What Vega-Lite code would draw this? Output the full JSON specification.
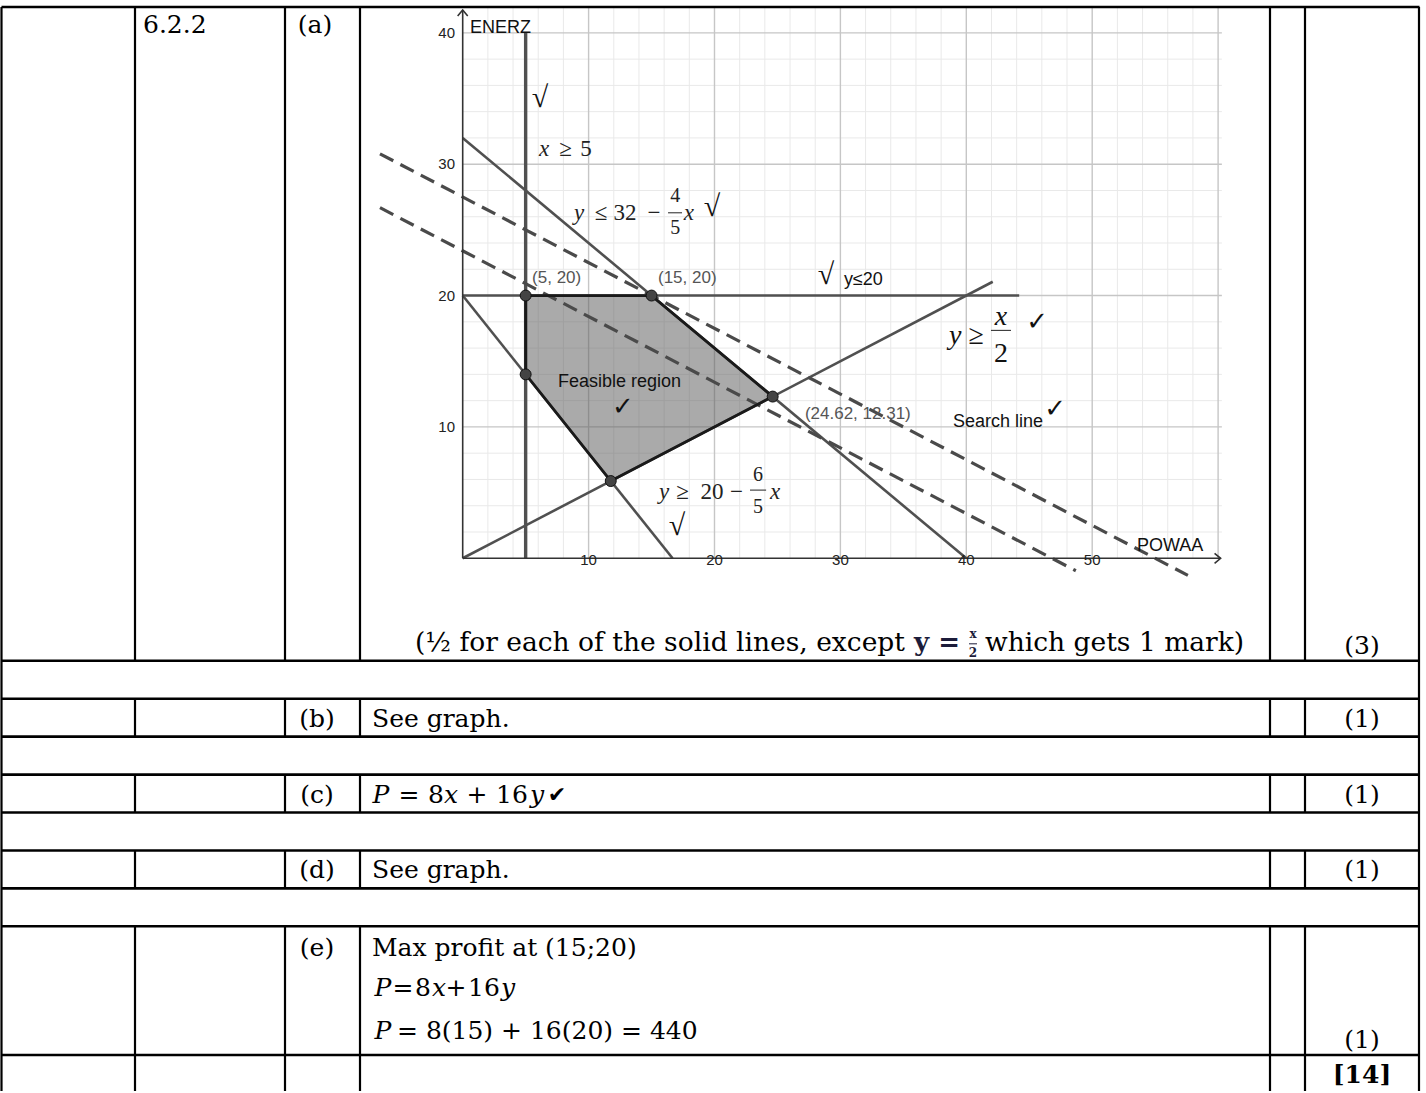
{
  "$schema": "https://vega.github.io/schema/vega-lite/v6.json",
  "width": 1426,
  "height": 1093,
  "autosize": {"type": "fit", "contains": "padding"},
  "padding": 0,
  "background": "white",
  "config": {"view": {"stroke": null}, "axis": {"disable": true}},
  "datasets": {
    "vminor": [{"x":2,"y":0,"y2":41.95},{"x":4,"y":0,"y2":41.95},{"x":6,"y":0,"y2":41.95},{"x":8,"y":0,"y2":41.95},{"x":12,"y":0,"y2":41.95},{"x":14,"y":0,"y2":41.95},{"x":16,"y":0,"y2":41.95},{"x":18,"y":0,"y2":41.95},{"x":22,"y":0,"y2":41.95},{"x":24,"y":0,"y2":41.95},{"x":26,"y":0,"y2":41.95},{"x":28,"y":0,"y2":41.95},{"x":32,"y":0,"y2":41.95},{"x":34,"y":0,"y2":41.95},{"x":36,"y":0,"y2":41.95},{"x":38,"y":0,"y2":41.95},{"x":42,"y":0,"y2":41.95},{"x":44,"y":0,"y2":41.95},{"x":46,"y":0,"y2":41.95},{"x":48,"y":0,"y2":41.95},{"x":52,"y":0,"y2":41.95},{"x":54,"y":0,"y2":41.95},{"x":56,"y":0,"y2":41.95},{"x":58,"y":0,"y2":41.95}],
    "vmajor": [{"x":10,"y":0,"y2":41.95},{"x":20,"y":0,"y2":41.95},{"x":30,"y":0,"y2":41.95},{"x":40,"y":0,"y2":41.95},{"x":50,"y":0,"y2":41.95},{"x":60,"y":0,"y2":41.95}],
    "hminor": [{"y":2,"x":0,"x2":60.3},{"y":4,"x":0,"x2":60.3},{"y":6,"x":0,"x2":60.3},{"y":8,"x":0,"x2":60.3},{"y":12,"x":0,"x2":60.3},{"y":14,"x":0,"x2":60.3},{"y":16,"x":0,"x2":60.3},{"y":18,"x":0,"x2":60.3},{"y":22,"x":0,"x2":60.3},{"y":24,"x":0,"x2":60.3},{"y":26,"x":0,"x2":60.3},{"y":28,"x":0,"x2":60.3},{"y":32,"x":0,"x2":60.3},{"y":34,"x":0,"x2":60.3},{"y":36,"x":0,"x2":60.3},{"y":38,"x":0,"x2":60.3}],
    "hmajor": [{"y":10,"x":0,"x2":60.3},{"y":20,"x":0,"x2":60.3},{"y":30,"x":0,"x2":60.3},{"y":40,"x":0,"x2":60.3}],
    "constraints": [
      {"line":"y=32-4x/5","x":0,"y":32},{"line":"y=32-4x/5","x":40,"y":0},
      {"line":"y=20","x":0,"y":20},{"line":"y=20","x":44.2,"y":20},
      {"line":"y=20-6x/5","x":0,"y":20},{"line":"y=20-6x/5","x":16.67,"y":0},
      {"line":"y=x/2","x":0,"y":0},{"line":"y=x/2","x":42.1,"y":21.05}
    ],
    "xge5": [{"x":5,"y":0},{"x":5,"y":40}],
    "search": [
      {"line":"P=440","x":-6.57,"y":30.79},{"line":"P=440","x":57.6,"y":-1.3},
      {"line":"P=374","x":-6.57,"y":26.69},{"line":"P=374","x":48.7,"y":-0.95}
    ],
    "region": [{"x":5,"lo":14,"hi":20},{"x":11.76,"lo":5.88,"hi":20},{"x":15,"lo":7.5,"hi":20},{"x":24.62,"lo":12.31,"hi":12.31}],
    "vertices": [{"i":0,"x":5,"y":20},{"i":1,"x":15,"y":20},{"i":2,"x":24.62,"y":12.31},{"i":3,"x":11.76,"y":5.88},{"i":4,"x":5,"y":14},{"i":5,"x":5,"y":20}],
    "axes": [
      {"part":"x","i":0,"x":0,"y":0},{"part":"x","i":1,"x":60.2,"y":0},
      {"part":"y","i":0,"x":0,"y":0},{"part":"y","i":1,"x":0,"y":41.74},
      {"part":"xa","i":0,"x":59.72,"y":0.38},{"part":"xa","i":1,"x":60.2,"y":0},{"part":"xa","i":2,"x":59.72,"y":-0.38},
      {"part":"ya","i":0,"x":-0.4,"y":41.29},{"part":"ya","i":1,"x":0,"y":41.74},{"part":"ya","i":2,"x":0.4,"y":41.29}
    ],
    "g_sans": [{"t":"ENERZ","x":0.58,"y":40.37},{"t":"POWAA","x":53.56,"y":0.93},{"t":"Feasible region","x":7.57,"y":13.4},{"t":"Search line","x":38.95,"y":10.36},{"t":"y≤20","x":30.28,"y":21.22}],
    "g_coords": [{"t":"(5, 20)","x":5.51,"y":21.3},{"t":"(15, 20)","x":15.51,"y":21.3},{"t":"(24.62, 12.31)","x":27.18,"y":10.97}],
    "g_yticks": [{"t":"10","x":-0.61,"y":10},{"t":"20","x":-0.61,"y":20},{"t":"30","x":-0.61,"y":30},{"t":"40","x":-0.61,"y":40}],
    "g_xticks": [{"t":"10","x":10,"y":-0.13},{"t":"20","x":20,"y":-0.13},{"t":"30","x":30,"y":-0.13},{"t":"40","x":40,"y":-0.13},{"t":"50","x":50,"y":-0.13}],
    "g_mi": [{"t":"x","x":6.46,"y":31.17},{"t":"y","x":9.24,"y":26.31},{"t":"x","x":17.97,"y":26.31},{"t":"y","x":16.0,"y":5.04},{"t":"x","x":24.81,"y":5.04}],
    "g_mr": [{"t":"≥","x":8.17,"y":31.17},{"t":"5","x":9.8,"y":31.17},{"t":"≤","x":10.99,"y":26.31},{"t":"32","x":12.9,"y":26.31},{"t":"−","x":15.19,"y":26.31},{"t":"≥","x":17.46,"y":5.04},{"t":"20","x":19.8,"y":5.04},{"t":"−","x":21.75,"y":5.04}],
    "g_frac": [{"t":"4","x":16.88,"y":27.6},{"t":"5","x":16.88,"y":25.14},{"t":"6","x":23.45,"y":6.33},{"t":"5","x":23.45,"y":3.94}],
    "fracbars": [{"x":16.31,"x2":17.42,"y":26.3},{"x":22.82,"x2":24.1,"y":5.19},{"x":41.96,"x2":43.55,"y":17.35}],
    "g_bi": [{"t":"y","x":39.12,"y":16.9},{"t":"x","x":42.76,"y":18.34}],
    "g_br": [{"t":"≥","x":40.79,"y":16.9},{"t":"2","x":42.76,"y":15.52}],
    "g_checks": [{"t":"✓","x":12.73,"y":11.5},{"t":"✓","x":45.62,"y":17.96},{"t":"✓","x":47.05,"y":11.35}],
    "g_roots": [{"t":"√","x":6.14,"y":35.06},{"t":"√","x":19.8,"y":26.77},{"t":"√","x":28.85,"y":21.6},{"t":"√","x":17.02,"y":2.45}],
    "hlines": [{"x":1.5,"x2":1419.5,"y":7},{"x":1.5,"x2":1419.5,"y":662},{"x":1.5,"x2":1419.5,"y":700},{"x":1.5,"x2":1419.5,"y":738},{"x":1.5,"x2":1419.5,"y":776},{"x":1.5,"x2":1419.5,"y":814},{"x":1.5,"x2":1419.5,"y":852},{"x":1.5,"x2":1419.5,"y":890},{"x":1.5,"x2":1419.5,"y":928},{"x":1.5,"x2":1419.5,"y":1057}],
    "vlines": [
      {"x":1.5,"y":7,"y2":1093},{"x":1419,"y":7,"y2":1093},
      {"x":135,"y":7,"y2":662},{"x":285,"y":7,"y2":662},{"x":360,"y":7,"y2":662},{"x":1270,"y":7,"y2":662},{"x":1305,"y":7,"y2":662},
      {"x":135,"y":700,"y2":738},{"x":285,"y":700,"y2":738},{"x":360,"y":700,"y2":738},{"x":1270,"y":700,"y2":738},{"x":1305,"y":700,"y2":738},
      {"x":135,"y":776,"y2":814},{"x":285,"y":776,"y2":814},{"x":360,"y":776,"y2":814},{"x":1270,"y":776,"y2":814},{"x":1305,"y":776,"y2":814},
      {"x":135,"y":852,"y2":890},{"x":285,"y":852,"y2":890},{"x":360,"y":852,"y2":890},{"x":1270,"y":852,"y2":890},{"x":1305,"y":852,"y2":890},
      {"x":135,"y":928,"y2":1093},{"x":285,"y":928,"y2":1093},{"x":360,"y":928,"y2":1093},{"x":1270,"y":928,"y2":1093},{"x":1305,"y":928,"y2":1093}
    ],
    "t_left": [{"t":"6.2.2","x":143,"y":25},{"t":"See graph.","x":372,"y":720},{"t":"See graph.","x":372,"y":872},{"t":"Max profit at (15;20)","x":372,"y":950},{"t":"= 8(15) + 16(20) = 440","x":397,"y":1033}],
    "t_note": [{"t":"(½ for each of the solid lines, except","x":415,"y":644},{"t":"which gets 1 mark)","x":985,"y":644}],
    "t_center": [{"t":"(a)","x":315,"y":25},{"t":"(b)","x":317,"y":720},{"t":"(c)","x":317,"y":796},{"t":"(d)","x":317,"y":872},{"t":"(e)","x":317,"y":950},{"t":"(3)","x":1362,"y":647},{"t":"(1)","x":1362,"y":720},{"t":"(1)","x":1362,"y":796},{"t":"(1)","x":1362,"y":872},{"t":"(1)","x":1362,"y":1042},{"t":"=","x":409,"y":796},{"t":"8","x":436,"y":796},{"t":"+","x":477,"y":796},{"t":"16","x":512,"y":796},{"t":"=","x":403,"y":990},{"t":"8","x":423,"y":990},{"t":"+","x":456,"y":990},{"t":"16","x":484,"y":990}],
    "t_italic": [{"t":"P","x":381,"y":796},{"t":"x","x":451,"y":796},{"t":"y","x":537,"y":796},{"t":"P","x":383,"y":990},{"t":"x","x":439,"y":990},{"t":"y","x":508,"y":990},{"t":"P","x":383,"y":1033}],
    "t_check": [{"t":"✔","x":557,"y":796}],
    "t_bold": [{"t":"[14]","x":1362,"y":1077}],
    "t_note_eq": [{"t":"y =","x":937,"y":644}],
    "t_note_frac": [{"t":"x","x":973,"y":635},{"t":"2","x":973,"y":654}],
    "t_note_bar": [{"x":969,"x2":977,"y":645}]
  },
  "layer": [
    {
      "encoding": {
        "x": {"field": "x", "type": "quantitative", "scale": {"domain": [-36.751, 76.513], "nice": false, "zero": false}},
        "y": {"field": "y", "type": "quantitative", "scale": {"domain": [-40.555, 42.5], "nice": false, "zero": false}}
      },
      "layer": [
        {"data": {"name": "vminor"}, "mark": {"type": "rule", "color": "#e9e9e9", "strokeWidth": 1}, "encoding": {"y2": {"field": "y2"}}},
        {"data": {"name": "hminor"}, "mark": {"type": "rule", "color": "#e9e9e9", "strokeWidth": 1}, "encoding": {"x2": {"field": "x2"}}},
        {"data": {"name": "vmajor"}, "mark": {"type": "rule", "color": "#c6c6c6", "strokeWidth": 1.4}, "encoding": {"y2": {"field": "y2"}}},
        {"data": {"name": "hmajor"}, "mark": {"type": "rule", "color": "#c6c6c6", "strokeWidth": 1.4}, "encoding": {"x2": {"field": "x2"}}},
        {"data": {"name": "region"}, "mark": {"type": "area", "color": "#555555", "opacity": 0.5}, "encoding": {"y": {"field": "lo", "type": "quantitative"}, "y2": {"field": "hi"}}},
        {"data": {"name": "constraints"}, "mark": {"type": "line", "color": "#505050", "strokeWidth": 2.6}, "encoding": {"detail": {"field": "line"}}},
        {"data": {"name": "xge5"}, "mark": {"type": "line", "color": "#505050", "strokeWidth": 3.4}, "encoding": {}},
        {"data": {"name": "search"}, "mark": {"type": "line", "color": "#4a4a4a", "strokeWidth": 3.2, "strokeDash": [15, 8]}, "encoding": {"detail": {"field": "line"}}},
        {"data": {"name": "vertices"}, "mark": {"type": "line", "color": "#1a1a1a", "strokeWidth": 2.8}, "encoding": {"order": {"field": "i"}}},
        {"data": {"name": "axes"}, "mark": {"type": "line", "color": "#333333", "strokeWidth": 1.6}, "encoding": {"detail": {"field": "part"}, "order": {"field": "i"}}},
        {"data": {"name": "fracbars"}, "mark": {"type": "rule", "color": "#222222", "strokeWidth": 1}, "encoding": {"x2": {"field": "x2"}}},
        {"data": {"name": "vertices"}, "transform": [{"filter": "datum.i < 5"}], "mark": {"type": "point", "filled": true, "shape": "circle", "size": 120, "fill": "#444444", "stroke": "#111111", "strokeWidth": 1, "opacity": 1}, "encoding": {}},
        {"data": {"name": "g_sans"}, "mark": {"type": "text", "font": "Liberation Sans", "fontSize": 18, "align": "left", "baseline": "middle", "color": "#111111"}, "encoding": {"text": {"field": "t"}}},
        {"data": {"name": "g_coords"}, "mark": {"type": "text", "font": "Liberation Sans", "fontSize": 17, "align": "left", "baseline": "middle", "color": "#555555"}, "encoding": {"text": {"field": "t"}}},
        {"data": {"name": "g_yticks"}, "mark": {"type": "text", "font": "Liberation Sans", "fontSize": 15, "align": "right", "baseline": "middle", "color": "#222222"}, "encoding": {"text": {"field": "t"}}},
        {"data": {"name": "g_xticks"}, "mark": {"type": "text", "font": "Liberation Sans", "fontSize": 15, "align": "center", "baseline": "middle", "color": "#222222"}, "encoding": {"text": {"field": "t"}}},
        {"data": {"name": "g_mi"}, "mark": {"type": "text", "font": "Liberation Serif", "fontStyle": "italic", "fontSize": 23, "align": "center", "baseline": "middle", "color": "#222222"}, "encoding": {"text": {"field": "t"}}},
        {"data": {"name": "g_mr"}, "mark": {"type": "text", "font": "Liberation Serif", "fontSize": 23, "align": "center", "baseline": "middle", "color": "#222222"}, "encoding": {"text": {"field": "t"}}},
        {"data": {"name": "g_frac"}, "mark": {"type": "text", "font": "Liberation Serif", "fontSize": 20, "align": "center", "baseline": "middle", "color": "#222222"}, "encoding": {"text": {"field": "t"}}},
        {"data": {"name": "g_bi"}, "mark": {"type": "text", "font": "Liberation Serif", "fontStyle": "italic", "fontSize": 28, "align": "center", "baseline": "middle", "color": "#111111"}, "encoding": {"text": {"field": "t"}}},
        {"data": {"name": "g_br"}, "mark": {"type": "text", "font": "Liberation Serif", "fontSize": 28, "align": "center", "baseline": "middle", "color": "#111111"}, "encoding": {"text": {"field": "t"}}},
        {"data": {"name": "g_checks"}, "mark": {"type": "text", "font": "DejaVu Sans", "fontSize": 26, "align": "center", "baseline": "middle", "color": "#111111"}, "encoding": {"text": {"field": "t"}}},
        {"data": {"name": "g_roots"}, "mark": {"type": "text", "font": "Liberation Serif", "fontSize": 30, "align": "center", "baseline": "middle", "color": "#111111"}, "encoding": {"text": {"field": "t"}}}
      ]
    },
    {
      "encoding": {
        "x": {"field": "x", "type": "quantitative", "scale": {"domain": [0, 1426], "nice": false, "zero": false}},
        "y": {"field": "y", "type": "quantitative", "scale": {"domain": [0, 1093], "nice": false, "zero": false, "reverse": true}}
      },
      "layer": [
        {"data": {"name": "hlines"}, "mark": {"type": "rule", "color": "#000000", "strokeWidth": 2.6}, "encoding": {"x2": {"field": "x2"}}},
        {"data": {"name": "vlines"}, "mark": {"type": "rule", "color": "#000000", "strokeWidth": 2.2}, "encoding": {"y2": {"field": "y2"}}},
        {"data": {"name": "t_left"}, "mark": {"type": "text", "font": "DejaVu Serif", "fontSize": 25, "align": "left", "baseline": "middle", "color": "#000000"}, "encoding": {"text": {"field": "t"}}},
        {"data": {"name": "t_note"}, "mark": {"type": "text", "font": "DejaVu Serif", "fontSize": 26.5, "align": "left", "baseline": "middle", "color": "#000000"}, "encoding": {"text": {"field": "t"}}},
        {"data": {"name": "t_center"}, "mark": {"type": "text", "font": "DejaVu Serif", "fontSize": 25, "align": "center", "baseline": "middle", "color": "#000000"}, "encoding": {"text": {"field": "t"}}},
        {"data": {"name": "t_italic"}, "mark": {"type": "text", "font": "DejaVu Serif", "fontStyle": "italic", "fontSize": 25, "align": "center", "baseline": "middle", "color": "#000000"}, "encoding": {"text": {"field": "t"}}},
        {"data": {"name": "t_check"}, "mark": {"type": "text", "font": "DejaVu Sans", "fontSize": 22, "align": "center", "baseline": "middle", "color": "#000000"}, "encoding": {"text": {"field": "t"}}},
        {"data": {"name": "t_bold"}, "mark": {"type": "text", "font": "DejaVu Serif", "fontWeight": "bold", "fontSize": 25, "align": "center", "baseline": "middle", "color": "#000000"}, "encoding": {"text": {"field": "t"}}},
        {"data": {"name": "t_note_eq"}, "mark": {"type": "text", "font": "DejaVu Serif", "fontWeight": "bold", "fontSize": 26, "align": "center", "baseline": "middle", "color": "#1c1c3a"}, "encoding": {"text": {"field": "t"}}},
        {"data": {"name": "t_note_frac"}, "mark": {"type": "text", "font": "DejaVu Serif", "fontWeight": "bold", "fontSize": 12, "align": "center", "baseline": "middle", "color": "#1c1c3a"}, "encoding": {"text": {"field": "t"}}},
        {"data": {"name": "t_note_bar"}, "mark": {"type": "rule", "color": "#1c1c3a", "strokeWidth": 1}, "encoding": {"x2": {"field": "x2"}}}
      ]
    }
  ],
  "resolve": {"scale": {"x": "independent", "y": "independent"}}
}
